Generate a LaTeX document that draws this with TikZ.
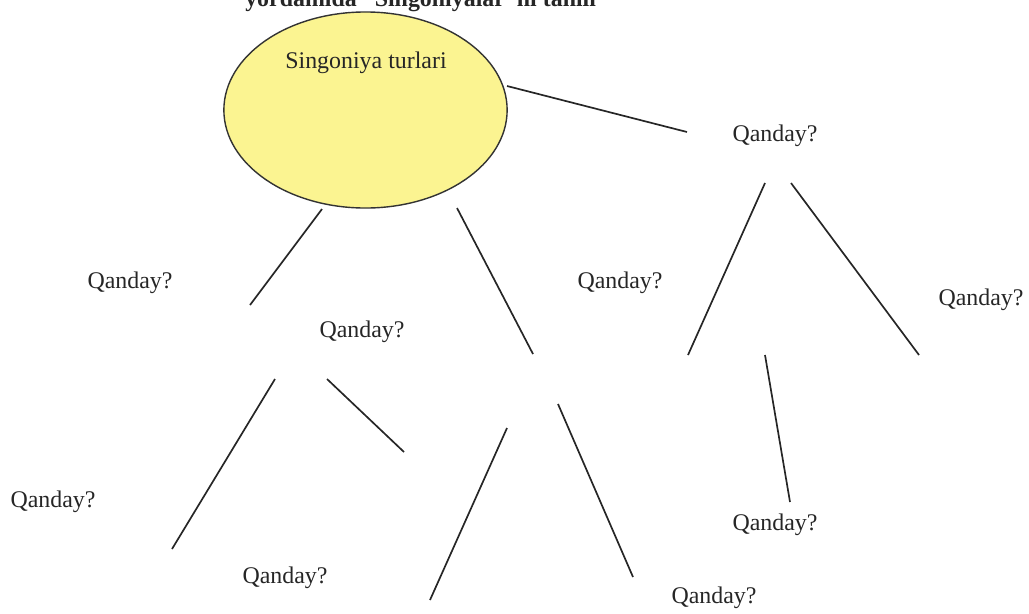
\documentclass[tikz,border=0pt]{standalone}
\usepackage{fontspec}
\setmainfont{Liberation Serif}
\usetikzlibrary{shapes.geometric}
\definecolor{singyellow}{RGB}{251,244,145}
\tikzstyle{every picture} = [x=0.025cm, y=-0.025cm]
\tikzstyle{savol} = [text=black!85, font=\fontsize{17}{20}\selectfont, inner sep=0pt]
\tikzstyle{chiziq} = [-, line width=1.2pt, draw=black!85]

\begin{document}
\begin{tikzpicture}
            \useasboundingbox (0,0) rectangle (1029,613);
            \clip (0,0) rectangle (1029,613);

            \node (sarlavha) at(245,6) [anchor=base west, text=black!85, font=\fontsize{17}{20}\selectfont\bfseries, inner sep=0pt] {yordamida “Singoniyalar”ni tahlil};

            \node (singoniya) at(365.5,110) [ellipse, draw=black!80, fill=singyellow, line width=1pt, minimum width=7.08cm, minimum height=4.9cm, inner sep=0pt] {};
            \node (turlar) at(366,63) [savol] {Singoniya turlari};

            \node (q 1) at(775,136) [savol] {Qanday?};
            \node (q 2) at(981,300) [savol] {Qanday?};
            \node (q 3) at(620,283) [savol] {Qanday?};
            \node (q 4) at(775,525) [savol] {Qanday?};
            \node (q 5) at(130,283) [savol] {Qanday?};
            \node (q 6) at(362,332) [savol] {Qanday?};
            \node (q 7) at(53,502) [savol] {Qanday?};
            \node (q 8) at(285,578) [savol] {Qanday?};
            \node (q 9) at(714,598) [savol] {Qanday?};

            \coordinate (l 1a) at(507,86);   \coordinate (l 1b) at(687,132);
            \coordinate (l 2a) at(765,183);  \coordinate (l 2b) at(688,355);
            \coordinate (l 3a) at(791,183);  \coordinate (l 3b) at(919,355);
            \coordinate (l 4a) at(765,355);  \coordinate (l 4b) at(790,502);
            \coordinate (l 5a) at(322,209);  \coordinate (l 5b) at(250,305);
            \coordinate (l 6a) at(457,208);  \coordinate (l 6b) at(533,354);
            \coordinate (l 7a) at(275,379);  \coordinate (l 7b) at(172,549);
            \coordinate (l 8a) at(327,379);  \coordinate (l 8b) at(404,452);
            \coordinate (l 9a) at(507,428);  \coordinate (l 9b) at(430,600);
            \coordinate (l 10a) at(558,404); \coordinate (l 10b) at(633,577);

            \path 	(l 1a) edge[chiziq] (l 1b)
            		(l 2a) edge[chiziq] (l 2b)
            		(l 3a) edge[chiziq] (l 3b)
            		(l 4a) edge[chiziq] (l 4b)
            		(l 5a) edge[chiziq] (l 5b)
            		(l 6a) edge[chiziq] (l 6b)
            		(l 7a) edge[chiziq] (l 7b)
            		(l 8a) edge[chiziq] (l 8b)
            		(l 9a) edge[chiziq] (l 9b)
            		(l 10a) edge[chiziq] (l 10b);
        \end{tikzpicture}
\end{document}
